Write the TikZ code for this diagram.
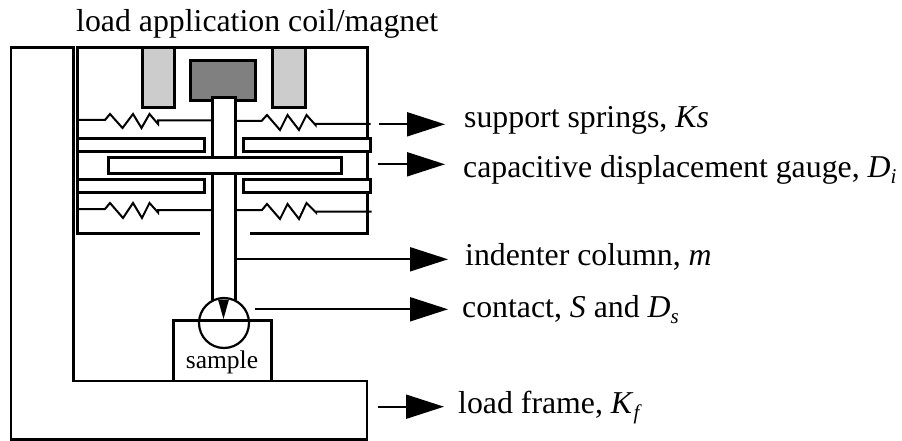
\documentclass[tikz,border=0pt]{standalone}
\usepackage{fontspec}
\setmainfont{Liberation Serif}
\usetikzlibrary{arrows.meta}
\newcommand{\subit}[1]{\raisebox{-0.22em}{\fontsize{21}{21}\selectfont\textit{#1}}}
\tikzset{
  x=1pt,y=-1pt,
  thick line/.style={line width=3pt,draw=black},
  thin line/.style={line width=2pt,draw=black},
  plate/.style={thick line,fill=white},
  pointer/.style={line width=2pt,-{Triangle[length=38pt,width=24pt]}},
  lab/.style={anchor=base west,inner sep=0pt,font=\fontsize{31.8}{34}\selectfont},
}
\begin{document}
\begin{tikzpicture}[line join=miter]
\useasboundingbox (0,0) rectangle (902,441);
\fill[white] (0,0) rectangle (902,441);
% load frame
\draw[line width=2.2pt] (11,47.5) -- (73.5,47.5) -- (73.5,381) -- (367,381) -- (367,439.5) -- (11,439.5) -- cycle;
% housing
\draw[thick line] (200,233) -- (77.5,233) -- (77.5,47.5) -- (367,47.5) -- (367,233) -- (250,233);
% coils and magnet
\draw[thick line,fill=black!20] (142,47.5) rectangle (174.5,108);
\draw[thick line,fill=black!20] (272,47.5) rectangle (305,108);
\draw[thick line,fill=black!50] (190.5,61) rectangle (255.5,100.5);
% springs
\draw[thin line] (77.5,120) -- (105,120) -- (110,114) -- (122.5,128) -- (133,114) -- (141.5,128) -- (149.5,114) -- (158,124) -- (158,120.5) -- (212,120.5);
\draw[thin line] (235,121) -- (261.5,121) -- (267,115) -- (280,130) -- (287.5,115) -- (299,130) -- (306.5,115) -- (315.5,125) -- (315.5,124) -- (370.5,124);
\draw[thin line] (77.5,209) -- (105,209) -- (110,203) -- (123,218) -- (133,203) -- (142,218) -- (149.5,203) -- (158,212.5) -- (158,210) -- (212,210);
\draw[thin line] (235,210) -- (262,210) -- (267,204) -- (280,219) -- (287.5,204) -- (299,219) -- (306.5,203) -- (316,212.5) -- (316,211.5) -- (371.5,211.5);
% column
\draw[thick line,fill=white] (212.5,300) -- (212.5,98) -- (235,98) -- (235,300);
% plates
\draw[plate] (77.5,139) rectangle (204,151.5);
\draw[plate] (243.5,139) rectangle (370,151.5);
\draw[plate] (77.5,179) rectangle (204,192.5);
\draw[plate] (243.5,179) rectangle (370,192.5);
\draw[plate] (108.5,157.5) rectangle (341.5,173);
% sample and contact
\draw[thick line] (173.5,381) -- (173.5,320) -- (271.5,320) -- (271.5,381);
\node[inner sep=0pt,anchor=base,font=\fontsize{25.5}{28}\selectfont] (sample) at (222,368) {sample};
\draw[line width=2.2pt] (224,323) circle (25);
\fill[black] (218,299.5) -- (229,299.5) -- (223.5,319) -- cycle;
% labels
\node[lab] (title) at (76,32) {load application coil/magnet};
\node[lab] (springs) at (464,128) {support springs, \textit{Ks}};
\node[lab] (gauge) at (463,177) {capacitive displacement gauge, \textit{D}\subit{i}};
\node[lab] (column) at (465,265) {indenter column, \textit{m}};
\node[lab] (contact) at (462,317) {contact, \textit{S} and \textit{D}\subit{s}};
\node[lab] (frame) at (458,413) {load frame, \textit{K}\subit{f}};
% pointers
\coordinate (s1) at (379,124.3); \coordinate (e1) at (445,124.3);
\coordinate (s2) at (378,164.3); \coordinate (e2) at (445,164.3);
\coordinate (s3) at (236,259.3); \coordinate (e3) at (448,259.3);
\coordinate (s4) at (255,309.3); \coordinate (e4) at (448,309.3);
\coordinate (s5) at (378,406.7); \coordinate (e5) at (444,406.7);
\draw[pointer] (s1) -- (e1);
\draw[pointer] (s2) -- (e2);
\draw[pointer] (s3) -- (e3);
\draw[pointer] (s4) -- (e4);
\draw[pointer] (s5) -- (e5);
\end{tikzpicture}
\end{document}
